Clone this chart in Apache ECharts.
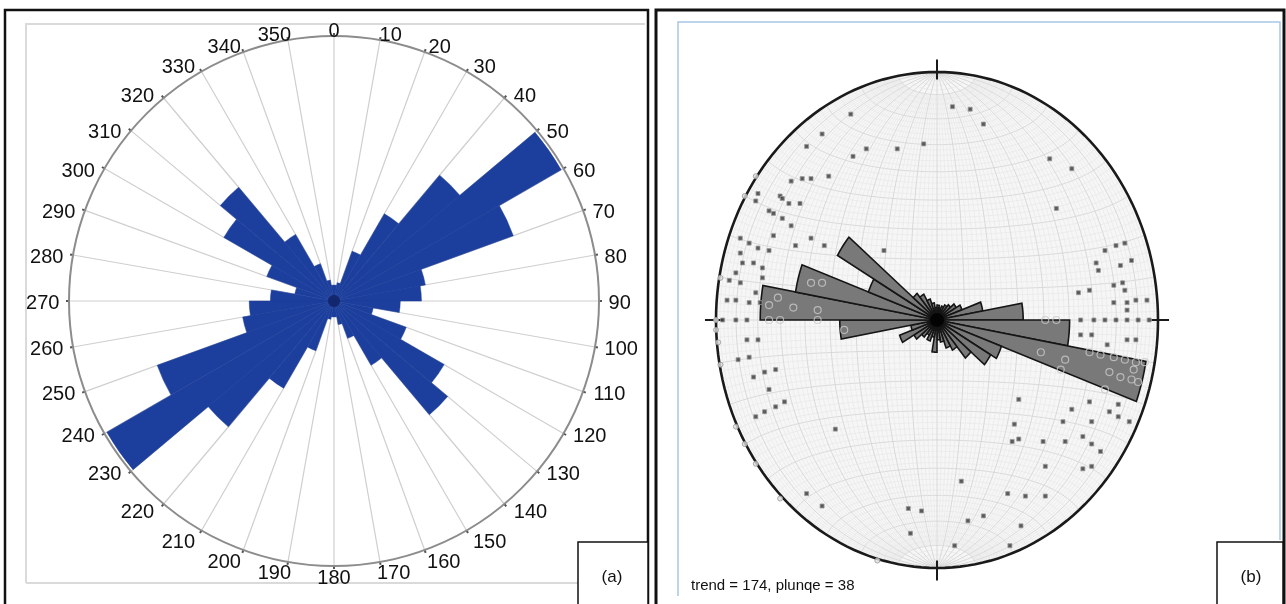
<!DOCTYPE html>
<html>
<head>
<meta charset="utf-8">
<script src="https://cdn.jsdelivr.net/npm/echarts@6/dist/echarts.min.js"></script>
<style>
  html, body { margin: 0; padding: 0; background: #fff; }
  #chart { width: 1286px; height: 604px; }
</style>
</head>
<body>
<div id="chart"></div>
<script>
// ---- data ----
// 10-degree bins (start azimuth of each petal); also the azimuth tick labels
const bins = [0, 10, 20, 30, 40, 50, 60, 70, 80, 90, 100, 110, 120, 130, 140, 150, 160, 170,
  180, 190, 200, 210, 220, 230, 240, 250, 260, 270, 280, 290, 300, 310, 320, 330, 340, 350];

// (a) rose petal lengths, % of outer circle
const roseA = [6, 7, 20, 38, 62, 99, 72, 35, 33, 25, 15, 29, 48, 56, 28, 15, 9, 6,
  6, 7, 20, 38, 62, 99, 71, 35, 32, 24, 15, 27, 48, 56, 29, 15, 8, 6];

// (b) rose petal lengths, % of primitive circle
const roseB = [6, 5, 6, 7, 8, 10, 12, 21, 39, 60, 96, 31, 28, 20, 14, 12, 9, 8,
  13, 7, 9, 7, 9, 12, 18, 12, 44, 80, 65, 33, 52, 14, 12, 9, 7, 5];

// (b) poles in the net, x = east, y = north, % of primitive radius
const polesFilled = [
  [-39, 83], [-52, 75], [-59, 70], [-32, 69], [-38, 66], [-18, 69], [-6, 71], [-49, 58], [-66, 56],
  [-61, 57], [-57, 57], [-81, 51], [-82, 48], [-71, 50], [-70, 49], [-67, 47], [-62, 47], [-76, 44],
  [-74, 43], [-70, 41], [-66, 38], [-74, 34], [-57, 33], [-51, 30], [-64, 30], [-24, 28], [-89, 33],
  [-85, 31], [-81, 29], [-76, 28], [-89, 27], [-83, 23], [-88, 23], [-79, 21], [-91, 19], [-94, 16],
  [-89, 15], [-79, 17], [-82, 11], [-95, 8], [-91, 8], [-85, 7], [-80, 7], [-97, 0], [-91, 0], [-86, 0],
  [7, 86], [15, 85], [21, 79], [51, 65], [61, 61], [54, 45], [76, 28], [81, 30], [85, 31], [72, 23],
  [73, 20], [83, 22], [88, 24], [64, 11], [69, 12], [80, 14], [84, 15], [85, 12], [80, 7], [86, 7],
  [86, 4], [90, 8], [95, 8], [65, 0], [71, 0], [76, 0], [81, 0], [86, 0], [91, 0], [96, 0],
  [-86, -8], [-81, -8], [-90, -16], [-85, -15], [-83, -23], [-78, -21], [-73, -20], [-76, -28],
  [-82, -39], [-78, -37], [-73, -35], [-69, -33], [-46, -44], [-59, -70], [-52, -75], [-13, -76],
  [-7, -77], [-12, -86],
  [65, -6], [70, -6], [77, -10], [86, -8], [90, -8], [37, -32], [69, -33], [61, -36], [82, -34],
  [78, -37], [82, -39], [87, -41], [57, -41], [70, -41], [35, -42], [37, -48], [34, -49], [48, -49],
  [58, -49], [66, -47], [70, -50], [74, -53], [49, -59], [66, -60], [70, -59], [11, -65], [32, -70],
  [40, -71], [49, -71], [14, -81], [21, -79], [38, -83], [8, -91], [33, -91]
];
const polesOpen = [
  [-57, 15], [-52, 15], [-72, 9], [-76, 6], [-65, 5], [-54, 4], [-76, 0], [-71, 0], [-54, 0], [-42, -4],
  [49, 0], [54, 0], [69, -13], [74, -14], [80, -15], [85, -16], [90, -17], [94, -17],
  [47, -13], [58, -16], [56, -20], [78, -21], [83, -23], [88, -24], [91, -25], [89, -20], [76, -28]
];
const polesEdge = [
  [-82, 58], [-87, 50], [-98, 17], [-100, 0], [-100, -4], [-99, -9], [-98, -18],
  [-91, -43], [-87, -50], [-82, -58], [-71, -72], [-27, -97]
];

const FONT = 'Arial, "Liberation Sans", sans-serif';
const D2R = Math.PI / 180;

const chart = echarts.init(document.getElementById('chart'));

// 绘制 (a) 的花瓣扇形
function renderPetalA(params, api) {
  const cs = params.coordSys;
  const r = api.value(0);
  const a0 = api.value(1);
  const p = api.coord([r, a0 + 5]);
  const rp = Math.hypot(p[0] - cs.cx, p[1] - cs.cy);
  return {
    type: 'sector',
    shape: {
      cx: cs.cx, cy: cs.cy, r0: 0, r: rp,
      startAngle: (a0 - 90) * D2R, endAngle: (a0 + 10 - 90) * D2R, clockwise: true
    },
    style: { fill: '#1c3e9c', stroke: '#1c3e9c', lineWidth: 0.5 }
  };
}

// (a) 方位角刻度标签：放在圆外（左右两侧水平偏移，上下两侧垂直偏移）
function renderAngleLabel(params, api) {
  const cs = params.coordSys;
  const a = api.value(0);
  const p = api.coord([100, a]);
  const dx = p[0] - cs.cx, dy = p[1] - cs.cy;
  const R = Math.hypot(dx, dy);
  const ux = dx / R, uy = dy / R;
  const text = String(a);
  const hw = text.length * 5.6;
  const gx = Math.sqrt(Math.min(1, Math.abs(ux) / 0.65));
  const gy = Math.max(0, Math.min(1, (Math.abs(uy) - 0.62) / 0.25));
  const ox = Math.sign(ux) * gx * (hw + 9.5);
  const oy = (uy < 0 ? -gy * 7 : gy * 9.5) + 2.5;
  return {
    type: 'text',
    x: p[0] + ox,
    y: p[1] + oy,
    style: { text, fontSize: 20, fontFamily: FONT, fill: '#111', align: 'center', verticalAlign: 'middle' }
  };
}

// 绘制 (b) 的花瓣
function renderPetalB(params, api) {
  const a0 = api.value(0);
  const r = api.value(1);
  const pts = [api.coord([0, 0])];
  for (let k = 0; k <= 8; k++) {
    const t = (a0 + k * 10 / 8) * D2R;
    pts.push(api.coord([r * Math.sin(t), r * Math.cos(t)]));
  }
  return {
    type: 'polygon',
    shape: { points: pts },
    style: { fill: '#797979', stroke: '#151515', lineWidth: 1.6 }
  };
}

// 等面积投影网 (Schmidt net)
function renderNet(params, api) {
  const proj = (e, n, d) => {
    const th = Math.acos(Math.max(-1, Math.min(1, d)));
    const r = Math.SQRT2 * Math.sin(th / 2) * 100;
    const h = Math.hypot(e, n);
    if (h < 1e-9) return api.coord([0, 0]);
    return api.coord([r * e / h, r * n / h]);
  };
  const children = [];
  const prim = [];
  for (let t = 0; t <= 360; t += 2) {
    prim.push(api.coord([100 * Math.sin(t * D2R), 100 * Math.cos(t * D2R)]));
  }
  children.push({ type: 'polygon', shape: { points: prim }, style: { fill: '#f6f6f6', stroke: null } });

  // small circles round the N-S axis
  for (let a = 2; a < 180; a += 2) {
    const major = a % 10 === 0;
    const pts = [];
    for (let f = 0; f <= 180; f += 3) {
      pts.push(proj(Math.sin(a * D2R) * Math.cos(f * D2R), Math.cos(a * D2R), Math.sin(a * D2R) * Math.sin(f * D2R)));
    }
    children.push({
      type: 'polyline', shape: { points: pts },
      style: { stroke: major ? '#d6d6d6' : '#e6e6e6', lineWidth: major ? 0.9 : 0.6, fill: null }
    });
  }
  // great circles (meridians)
  for (let a = 2; a < 180; a += 2) {
    const major = a % 10 === 0;
    const lo = major ? 0 : 10;
    const hi = major ? 180 : 170;
    const pts = [];
    for (let l = lo; l <= hi; l += 2) {
      const s = Math.sin(l * D2R);
      pts.push(proj(s * Math.cos(a * D2R), Math.cos(l * D2R), s * Math.sin(a * D2R)));
    }
    children.push({
      type: 'polyline', shape: { points: pts },
      style: { stroke: major ? '#d6d6d6' : '#e6e6e6', lineWidth: major ? 0.9 : 0.6, fill: null }
    });
  }
  // primitive circle
  children.push({ type: 'polygon', shape: { points: prim }, style: { fill: null, stroke: '#1a1a1a', lineWidth: 2.6 } });
  // N E S W ticks
  [[0, 1], [1, 0], [0, -1], [-1, 0]].forEach(([ux, uy]) => {
    const p1 = api.coord([ux * 97, uy * 97]);
    const p2 = api.coord([ux * 105, uy * 105]);
    children.push({ type: 'line', shape: { x1: p1[0], y1: p1[1], x2: p2[0], y2: p2[1] }, style: { stroke: '#1a1a1a', lineWidth: 2 } });
  });
  return { type: 'group', children };
}

const option = {
  animation: false,
  backgroundColor: '#fff',
  polar: [{ center: [334, 301], radius: 265 }],
  angleAxis: [{
    polarIndex: 0,
    type: 'value',
    min: 0,
    max: 360,
    interval: 10,
    startAngle: 90,
    clockwise: true,
    axisLine: { lineStyle: { color: '#8c8c8c', width: 2 } },
    axisTick: { show: true, length: 3, lineStyle: { color: '#555', width: 2 } },
    axisLabel: { show: false },
    splitLine: { show: true, lineStyle: { color: '#cfcfcf', width: 1.2 } }
  }],
  radiusAxis: [{ polarIndex: 0, type: 'value', min: 0, max: 100, show: false }],
  grid: [{ left: 716, top: 72, width: 442, height: 496 }],
  xAxis: [{ gridIndex: 0, type: 'value', min: -100, max: 100, show: false }],
  yAxis: [{ gridIndex: 0, type: 'value', min: -100, max: 100, show: false }],
  series: [
    {
      type: 'custom',
      coordinateSystem: 'polar',
      polarIndex: 0,
      data: bins.map((b, i) => [roseA[i], b]),
      renderItem: renderPetalA,
      z: 3
    },
    {
      type: 'custom',
      coordinateSystem: 'polar',
      polarIndex: 0,
      data: bins.map(b => [b]),
      dimensions: ['angleLabel'],
      encode: { angle: 0 },
      renderItem: renderAngleLabel,
      silent: true,
      z: 5
    },
    {
      type: 'scatter',
      coordinateSystem: 'polar',
      polarIndex: 0,
      data: [[0, 0]],
      symbolSize: 12,
      itemStyle: { color: '#0f2060' },
      z: 4
    },
    {
      type: 'custom',
      coordinateSystem: 'cartesian2d',
      data: [[0, 0]],
      renderItem: renderNet,
      silent: true,
      z: 1
    },
    {
      type: 'custom',
      coordinateSystem: 'cartesian2d',
      data: bins.map((b, i) => [b, roseB[i]]),
      renderItem: renderPetalB,
      z: 3
    },
    {
      type: 'scatter',
      data: [[0, 0]],
      symbolSize: 14,
      itemStyle: { color: '#000' },
      z: 4
    },
    {
      type: 'scatter',
      data: polesFilled,
      symbol: 'rect',
      symbolSize: 4,
      itemStyle: { color: '#333', borderColor: '#9a9a9a', borderWidth: 1 },
      z: 5
    },
    {
      type: 'scatter',
      data: polesOpen,
      symbol: 'circle',
      symbolSize: 7,
      itemStyle: { color: 'rgba(0,0,0,0)', borderColor: '#c9c9c9', borderWidth: 1.2 },
      z: 6
    },
    {
      type: 'scatter',
      data: polesEdge,
      symbol: 'circle',
      symbolSize: 5,
      itemStyle: { color: '#ddd', borderColor: '#999', borderWidth: 1 },
      z: 6
    }
  ],
  graphic: [
    // panel (a) frame
    { type: 'rect', shape: { x: 5, y: 10, width: 643, height: 600 }, style: { fill: null, stroke: '#111', lineWidth: 2.5 }, silent: true },
    { type: 'polyline', shape: { points: [[26, 583], [26, 24], [645, 24]] }, style: { fill: null, stroke: '#dadada', lineWidth: 2 }, silent: true },
    { type: 'line', shape: { x1: 26, y1: 583, x2: 578, y2: 583 }, style: { stroke: '#dadada', lineWidth: 2 }, silent: true },
    { type: 'rect', shape: { x: 578, y: 542, width: 70, height: 70 }, style: { fill: '#fff', stroke: '#111', lineWidth: 1.5 }, silent: true },
    { type: 'text', x: 612, y: 577, style: { text: '(a)', fontSize: 17, fontFamily: FONT, fill: '#111', align: 'center', verticalAlign: 'middle' }, silent: true },
    // panel (b) frame
    { type: 'rect', shape: { x: 656, y: 10, width: 628, height: 600 }, style: { fill: null, stroke: '#111', lineWidth: 3 }, silent: true },
    { type: 'polyline', shape: { points: [[678, 596], [678, 22], [1280, 22], [1280, 540]] }, style: { fill: null, stroke: '#a8c6e8', lineWidth: 1.5 }, silent: true },
    { type: 'rect', shape: { x: 1217, y: 542, width: 66, height: 70 }, style: { fill: '#fff', stroke: '#111', lineWidth: 1.5 }, silent: true },
    { type: 'text', x: 1251, y: 577, style: { text: '(b)', fontSize: 17, fontFamily: FONT, fill: '#111', align: 'center', verticalAlign: 'middle' }, silent: true },
    { type: 'text', x: 691, y: 586, style: { text: 'trend = 174, plunqe = 38', fontSize: 15, fontFamily: FONT, fill: '#111', align: 'left', verticalAlign: 'middle' }, silent: true }
  ]
};

chart.setOption(option);
</script>
</body>
</html>
